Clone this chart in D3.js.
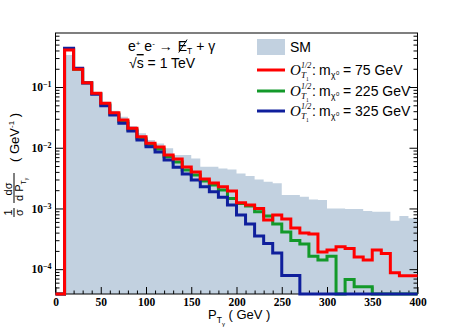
<!DOCTYPE html>
<html>
<head>
<meta charset="utf-8">
<script src="https://cdn.jsdelivr.net/npm/d3@7"></script>
<style>
  body { margin: 0; background: white; }
  svg { display: block; }
  .sans { font-family: "Liberation Sans", Arial, sans-serif; }
  .tick text { font-family: "Liberation Serif", "Times New Roman", serif; font-weight: bold; font-size: 11.5px; fill: black; }
  .tick line { stroke: black; }
</style>
</head>
<body>
<div id="chart"></div>
<script>
// bins of 10 GeV from 0 to 400
const binEdges = d3.range(0, 410, 10)

// SM background, 1/sigma dsigma/dPT per bin
const smValues = [0, 0.336, 0.19, 0.122, 0.083, 0.0573, 0.0407, 0.0324, 0.0228, 0.0173,
  0.0134, 0.0118, 0.0098, 0.0076, 0.0076, 0.00667, 0.00488, 0.00488, 0.00457, 0.0044,
  0.00378, 0.00342, 0.00301, 0.00275, 0.00259, 0.00166, 0.00166, 0.00156, 0.00141, 0.00138,
  0.001, 0.001, 0.00098, 0.00098, 0.000906, 0.000883, 0.000883, 0.000627, 0.00075, 0.000687]

// m_chi = 75 GeV
const red75 = [0, 0.407, 0.196, 0.118, 0.0787, 0.0538, 0.0377, 0.0286, 0.0209, 0.0152,
  0.0119, 0.0103, 0.00759, 0.00651, 0.00481, 0.00398, 0.00305, 0.00262, 0.00228, 0.00194,
  0.00124, 0.00114, 0.001, 0.000644, 0.000778, 0.000669, 0.000475, 0.000393, 0.000379, 0.000191,
  0.000207, 0.000234, 0.00022, 0.000158, 0.000141, 0.000207, 0.000182, 0.0000873, 0.0000778, 0.0000778]

// m_chi = 225 GeV
const green225 = [0, 0.415, 0.197, 0.118, 0.078, 0.052, 0.0359, 0.027, 0.0198, 0.0143,
  0.0111, 0.00953, 0.0071, 0.0058, 0.0043, 0.00355, 0.00283, 0.00243, 0.00201, 0.00146,
  0.00121, 0.0011, 0.000883, 0.00075, 0.000553, 0.000408, 0.000296, 0.000259, 0.000164, 0.000141,
  0.000164, 0, 0.0000679, 0.0000513, 0.0000513, 0, 0, 0, 0, 0]

// m_chi = 325 GeV
const blue325 = [0, 0.434, 0.203, 0.117, 0.076, 0.0492, 0.0346, 0.0252, 0.0188, 0.0134,
  0.0104, 0.0085, 0.00627, 0.00475, 0.0037, 0.00294, 0.00228, 0.00188, 0.00153, 0.00114,
  0.000778, 0.000553, 0.000351, 0.000266, 0.000184, 0.0000785, 0.0000785, 0, 0, 0,
  0, 0, 0, 0, 0, 0, 0, 0, 0, 0]

const xMajorTicks = [0, 50, 100, 150, 200, 250, 300, 350, 400]
const yMajorTicks = [1e-4, 1e-3, 1e-2, 1e-1]
const legendMasses = ["75", "225", "325"]

// chart dimensions
const dimensions = {
  width: 464,
  height: 334,
  margin: { top: 33, right: 46.5, bottom: 40, left: 55.5 },
}
dimensions.boundedWidth = dimensions.width - dimensions.margin.left - dimensions.margin.right
dimensions.boundedHeight = dimensions.height - dimensions.margin.top - dimensions.margin.bottom

const yMin = 3.9e-5
const yMax = 0.776

const wrapper = d3.select("#chart").append("svg")
  .attr("width", dimensions.width)
  .attr("height", dimensions.height)

const bounds = wrapper.append("g")
  .attr("transform", `translate(${dimensions.margin.left},${dimensions.margin.top})`)

// scales
const xScale = d3.scaleLinear()
  .domain([0, 400])
  .range([0, dimensions.boundedWidth])

const yScale = d3.scaleLog()
  .domain([yMin, yMax])
  .range([dimensions.boundedHeight, 0])

// minor log ticks 2..9 x 10^k
const yMinorTicks = []
for (let k = -5; k <= 0; k++) {
  for (let m = 2; m <= 9; m++) {
    const v = m * Math.pow(10, k)
    if (v >= yMin && v <= yMax) yMinorTicks.push(v)
  }
}
const xMinorTicks = d3.range(0, 401, 10).filter(v => v % 50 != 0)

// step points for a histogram
const stepPoints = values => {
  const pts = []
  values.forEach((v, i) => {
    pts.push([binEdges[i], v])
    pts.push([binEdges[i + 1], v])
  })
  return pts
}
const clampY = v => yScale(Math.max(v, yMin))

// axes
const yMinorLeft = d3.axisLeft(yScale).tickValues(yMinorTicks).tickSize(-4).tickFormat("")
const yMajorLeft = d3.axisLeft(yScale).tickValues(yMajorTicks).tickSize(-8).tickPadding(4)
  .tickFormat(d => "10")
const yMinorRight = d3.axisRight(yScale).tickValues(yMinorTicks).tickSize(-4).tickFormat("")
const yMajorRight = d3.axisRight(yScale).tickValues(yMajorTicks).tickSize(-8).tickFormat("")
const xMinorAxis = d3.axisBottom(xScale).tickValues(xMinorTicks).tickSize(-3.5).tickFormat("")
const xMajorAxis = d3.axisBottom(xScale).tickValues(xMajorTicks).tickSize(-7).tickPadding(4)

// SM filled histogram
const smArea = d3.area()
  .x(d => xScale(d[0]))
  .y0(dimensions.boundedHeight)
  .y1(d => clampY(d[1]))
bounds.append("path")
  .attr("d", smArea(stepPoints(smValues)))
  .attr("fill", "#c2d1e0")

// axes drawn over the fill
bounds.append("g").call(yMinorLeft)
const yLabels = bounds.append("g").call(yMajorLeft)
yLabels.selectAll(".tick text").each(function(d) {
  d3.select(this).append("tspan")
    .attr("dy", "-0.5em")
    .style("font-size", "8px")
    .text("\u2212" + Math.round(-Math.log10(d)))
})
bounds.append("g").attr("transform", `translate(${dimensions.boundedWidth},0)`).call(yMinorRight)
bounds.append("g").attr("transform", `translate(${dimensions.boundedWidth},0)`).call(yMajorRight)
bounds.append("g").attr("transform", `translate(0,${dimensions.boundedHeight})`).call(xMinorAxis)
bounds.append("g").attr("transform", `translate(0,${dimensions.boundedHeight})`).call(xMajorAxis)
bounds.selectAll(".domain").remove()

bounds.append("rect")
  .attr("x", 0).attr("y", 0)
  .attr("width", dimensions.boundedWidth)
  .attr("height", dimensions.boundedHeight)
  .attr("fill", "none")
  .attr("stroke", "black")
  .attr("stroke-width", 1)

// signal histograms
const lineGenerator = d3.line()
  .x(d => xScale(d[0]))
  .y(d => clampY(d[1]))

const series = [
  { values: green225, color: "#13992a" },
  { values: blue325, color: "#0f1f9c" },
  { values: red75, color: "#ff0000" },
]
series.forEach(s => {
  bounds.append("path")
    .attr("d", lineGenerator(stepPoints(s.values)))
    .attr("fill", "none")
    .attr("stroke", s.color)
    .attr("stroke-width", 3)
})

// process text: e+ e- -> missing E_T + gamma
const titleX = 128
const titleY = 51
const title = wrapper.append("text")
  .attr("class", "sans")
  .attr("x", titleX).attr("y", titleY)
  .style("font-size", "14px")
title.append("tspan").text("e")
title.append("tspan").attr("dy", -5).style("font-size", "8px").text("+")
title.append("tspan").attr("dy", 5).text("\u00a0e")
title.append("tspan").attr("dy", -5).style("font-size", "8px").text("-")
title.append("tspan").attr("dy", 5).text("\u00a0\u2192")
const eX = titleX + title.node().getComputedTextLength() + 5
const eMiss = wrapper.append("text")
  .attr("class", "sans")
  .attr("x", eX).attr("y", titleY)
  .style("font-size", "14px")
eMiss.append("tspan").text("E")
const eWidth = eMiss.node().getComputedTextLength()
eMiss.append("tspan").attr("dy", 3).style("font-size", "8.5px").text("T")
eMiss.append("tspan").attr("dy", -3).text("\u00a0+ \u03b3")
wrapper.append("line")
  .attr("x1", eX + 1).attr("x2", eX + eWidth)
  .attr("y1", titleY + 1.5).attr("y2", titleY - 11.5)
  .attr("stroke", "black").attr("stroke-width", 1)

const energy = wrapper.append("text")
  .attr("class", "sans")
  .attr("x", 129).attr("y", 68)
  .style("font-size", "14px")
energy.append("tspan").text("\u221a")
energy.append("tspan").style("text-decoration", "overline").text("s")
energy.append("tspan").text(" = 1 TeV")

// legend
const legend = wrapper.append("g").attr("class", "sans")
legend.append("rect")
  .attr("x", 257).attr("y", 39)
  .attr("width", 28).attr("height", 16)
  .attr("fill", "#c2d1e0")
legend.append("text")
  .attr("x", 290).attr("y", 52)
  .style("font-size", "14px")
  .text("SM")

const legendRows = [
  { mass: legendMasses[0], color: "#ff0000", y: 70 },
  { mass: legendMasses[1], color: "#13992a", y: 91 },
  { mass: legendMasses[2], color: "#0f1f9c", y: 111 },
]
legendRows.forEach(row => {
  legend.append("line")
    .attr("x1", 257).attr("x2", 285)
    .attr("y1", row.y).attr("y2", row.y)
    .attr("stroke", row.color)
    .attr("stroke-width", 3)
  const base = row.y + 5
  const serif = "'Liberation Serif', 'Times New Roman', serif"
  legend.append("text").attr("x", 290).attr("y", base)
    .style("font-family", serif).style("font-style", "italic").style("font-size", "15px")
    .text("O")
  legend.append("text").attr("x", 301).attr("y", base - 7)
    .style("font-family", serif).style("font-style", "italic").style("font-size", "8px")
    .text("1/2")
  legend.append("text").attr("x", 301).attr("y", base + 3)
    .style("font-family", serif).style("font-style", "italic").style("font-size", "9px")
    .text("T")
  legend.append("text").attr("x", 306).attr("y", base + 6)
    .style("font-family", serif).style("font-size", "5.5px")
    .text("1")
  legend.append("text").attr("x", 312).attr("y", base)
    .style("font-size", "14px")
    .text(":")
  legend.append("text").attr("x", 319).attr("y", base)
    .style("font-size", "14px")
    .text("m")
  legend.append("text").attr("x", 331).attr("y", base + 3)
    .style("font-size", "8.5px")
    .text("\u03c7")
  legend.append("text").attr("x", 336).attr("y", base)
    .style("font-size", "6px")
    .text("0")
  legend.append("text").attr("x", 343).attr("y", base)
    .style("font-size", "14px")
    .text(`= ${row.mass} GeV`)
})

// x axis title
const xTitle = wrapper.append("text")
  .attr("class", "sans")
  .attr("x", 208).attr("y", 319)
  .style("font-size", "13px")
xTitle.append("tspan").text("P")
xTitle.append("tspan").attr("dy", 4).style("font-size", "8.5px").text("T")
xTitle.append("tspan").attr("dy", 3).style("font-size", "6px").text("\u03b3")
xTitle.append("tspan").attr("dy", -7).text(" ( GeV )")

// y axis title, rotated
const yTitle = wrapper.append("g")
  .attr("class", "sans")
  .attr("transform", "translate(14,217) rotate(-90)")
yTitle.append("text").attr("x", 4.5).attr("y", -2.5).attr("text-anchor", "middle")
  .style("font-size", "11px").text("1")
yTitle.append("line").attr("x1", 0).attr("x2", 9).attr("y1", 0).attr("y2", 0)
  .attr("stroke", "black").attr("stroke-width", 1)
yTitle.append("text").attr("x", 4.5).attr("y", 9).attr("text-anchor", "middle")
  .style("font-size", "11px").text("\u03c3")
yTitle.append("text").attr("x", 28).attr("y", -2.5).attr("text-anchor", "middle")
  .style("font-size", "11px").text("d\u03c3")
yTitle.append("line").attr("x1", 14).attr("x2", 44).attr("y1", 0).attr("y2", 0)
  .attr("stroke", "black").attr("stroke-width", 1)
const denom = yTitle.append("text").attr("x", 16).attr("y", 9)
  .style("font-size", "11px")
denom.append("tspan").text("d P")
denom.append("tspan").attr("dy", 3).style("font-size", "7px").text("T")
denom.append("tspan").attr("dy", 2).style("font-size", "5px").text("\u03b3")
const unit = yTitle.append("text").attr("x", 55).attr("y", 4.5)
  .style("font-size", "13px")
unit.append("tspan").text("( GeV")
unit.append("tspan").attr("dy", -5).style("font-size", "8px").text("-1")
unit.append("tspan").attr("dy", 5).text(" )")
</script>
</body>
</html>
